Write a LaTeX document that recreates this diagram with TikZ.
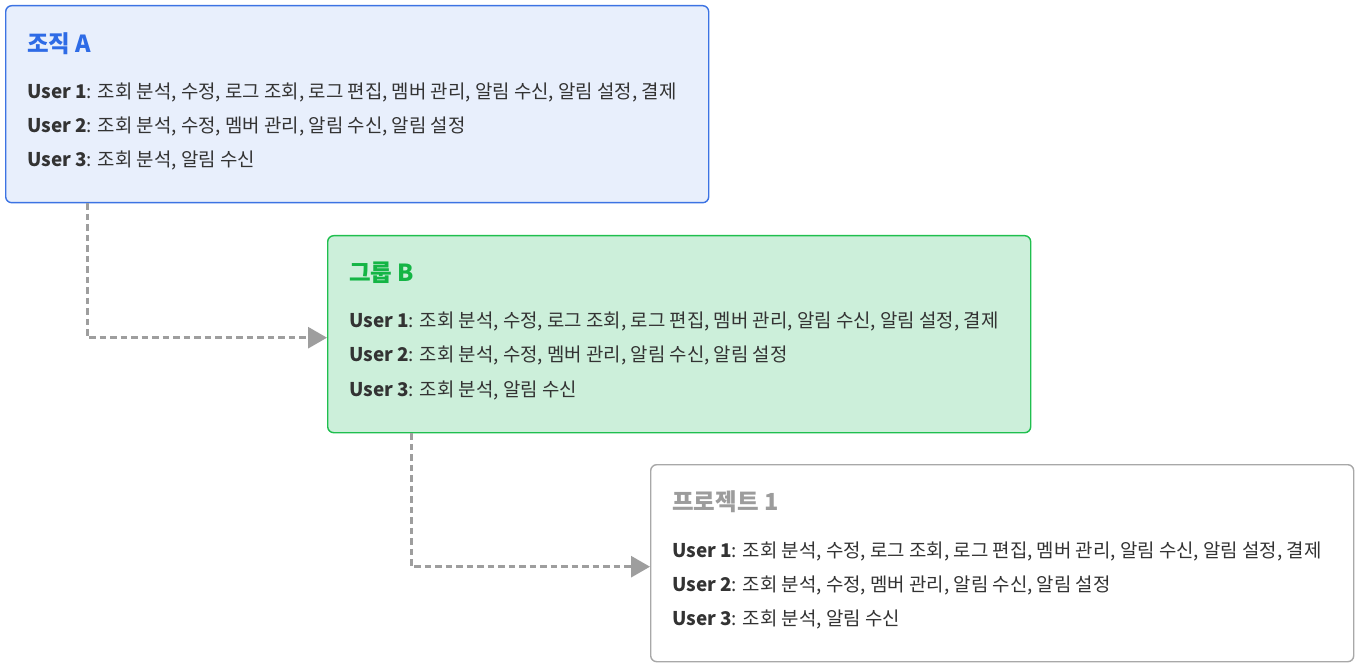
\documentclass[tikz,border=0pt]{standalone}
\usepackage{fontspec}
\setmainfont{Noto Sans CJK KR}
\usetikzlibrary{arrows.meta}

\definecolor{orgfill}{HTML}{E8EFFC}
\definecolor{orgline}{HTML}{3C73E3}
\definecolor{orgtext}{HTML}{2E6BE6}
\definecolor{grpfill}{HTML}{CCEFDA}
\definecolor{grpline}{HTML}{1FBF4E}
\definecolor{grptext}{HTML}{14B545}
\definecolor{prjline}{HTML}{A8A8A8}
\definecolor{prjtext}{HTML}{9C9C9C}
\definecolor{bodytext}{HTML}{333333}
\definecolor{flowgray}{HTML}{9E9E9E}

\tikzset{
  box/.style={draw, rounded corners=6pt, line width=1.4pt, minimum width=703pt,
    minimum height=197pt, anchor=north west, inner sep=0pt},
  title/.style={anchor=base west, font=\fontsize{23.5}{26}\selectfont\bfseries, inner sep=0pt},
  perm/.style={anchor=base west, font=\fontsize{18.9}{22}\selectfont, text=bodytext, inner sep=0pt},
  flow/.style={draw=flowgray, line width=3pt, dash pattern=on 6.5pt off 4pt,
    -{Triangle[length=19pt,width=21pt,fill=flowgray]}}
}

\newcommand{\permone}{\textbf{User 1}: 조회 분석, 수정, 로그 조회, 로그 편집, 멤버 관리, 알림 수신, 알림 설정, 결제}
\newcommand{\permtwo}{\textbf{User 2}: 조회 분석, 수정, 멤버 관리, 알림 수신, 알림 설정}
\newcommand{\permthree}{\textbf{User 3}: 조회 분석, 알림 수신}

\begin{document}
\begin{tikzpicture}[x=1pt, y=-1pt]
\useasboundingbox (0,0) rectangle (1361,668);

% 조직 A
\node[box, fill=orgfill, draw=orgline] (orgA) at (5,5) {};
\node[title, text=orgtext] (orgAtitle) at (27,53) {조직 A};
\node[perm] (orgA1) at (27,99) {\permone};
\node[perm] (orgA2) at (27,133) {\permtwo};
\node[perm] (orgA3) at (27,167) {\permthree};

% 그룹 B
\node[box, fill=grpfill, draw=grpline] (grpB) at (327,235) {};
\node[title, text=grptext] (grpBtitle) at (349,282) {그룹 B};
\node[perm] (grpB1) at (349,328) {\permone};
\node[perm] (grpB2) at (349,362) {\permtwo};
\node[perm] (grpB3) at (349,396) {\permthree};

% 프로젝트 1
\node[box, fill=white, draw=prjline] (prj1) at (650,464) {};
\node[title, text=prjtext] (prj1title) at (672,510) {프로젝트 1};
\node[perm] (prj11) at (672,557) {\permone};
\node[perm] (prj12) at (672,591) {\permtwo};
\node[perm] (prj13) at (672,625) {\permthree};

% inheritance
\draw[flow] ([xshift=82pt]orgA.south west) |- ([yshift=-3.5pt]grpB.west);
\draw[flow] ([xshift=84pt]grpB.south west) |- ([yshift=-3.5pt]prj1.west);

\end{tikzpicture}
\end{document}
